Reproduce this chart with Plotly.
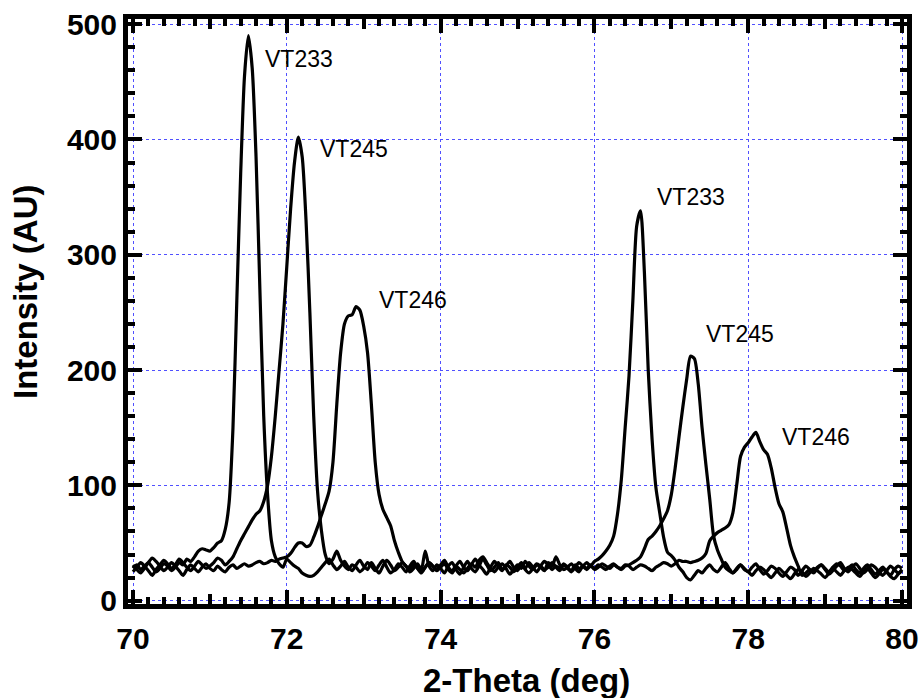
import numpy as np
import plotly.graph_objects as go

# 2-theta sampling: 70.00 .. 80.00 deg, step 0.05 deg (201 points)
X_START = 70.0
X_STEP = 0.05

vt233 = [
    28, 31, 27, 30, 33, 29, 25, 28, 32, 30,
    26, 29, 33, 31, 36, 34, 38, 43, 45, 44,
    43, 46, 50, 52, 62, 85, 150, 260, 370, 455,
    490, 462, 385, 270, 160, 92, 52, 38, 32, 29,
    36, 33, 30, 28, 24, 22, 21, 22, 25, 29,
    33, 36, 31, 27, 30, 34, 29, 26, 31, 35,
    30, 27, 33, 28, 24, 30, 35, 31, 26, 29,
    33, 30, 25, 28, 32, 27, 43, 30, 26, 31,
    28, 24, 30, 33, 27, 23, 29, 34, 28, 25,
    30, 36, 31, 26, 29, 33, 27, 30, 34, 29,
    26, 31, 28, 33, 29, 25, 30, 34, 31, 27,
    30, 28, 32, 29, 26, 31, 28, 30, 33, 30,
    34, 36, 39, 43, 48, 56, 75, 105, 150, 195,
    260, 325, 338, 285, 200, 140, 98, 76, 55, 42,
    39, 35, 29, 25, 20, 18, 22, 26, 24, 28,
    31, 27, 25, 29, 33, 28, 24, 27, 31, 28,
    25, 29, 32, 27, 23, 26, 30, 28, 24, 21,
    25, 29, 27, 22, 26, 30, 27, 24, 28, 31,
    27, 23, 26, 30, 33, 28, 25, 29, 32, 28,
    24, 27, 31, 29, 25, 22, 26, 30, 27, 24,
    27,
]

vt245 = [
    25, 29, 33, 30, 26, 22, 27, 31, 35, 32,
    28, 31, 36, 33, 29, 26, 30, 34, 31, 28,
    30, 33, 37, 35, 31, 34, 38, 45, 52, 58,
    64, 70, 75, 78, 86, 100, 125, 160, 200, 240,
    290, 340, 380, 402, 385, 330, 250, 160, 95, 61,
    40, 32, 36, 43, 35, 30, 27, 31, 29, 25,
    28, 33, 30, 26, 31, 35, 29, 24, 27, 32,
    29, 25, 30, 34, 28, 24, 29, 33, 30, 27,
    31, 35, 29, 26, 30, 27, 24, 28, 32, 29,
    35, 38, 33, 28, 25, 29, 32, 28, 23, 27,
    31, 28, 34, 30, 27, 31, 29, 26, 33, 30,
    38, 31, 27, 29, 32, 28, 25, 30, 28, 31,
    27, 29, 32, 30, 28, 31, 29, 27, 30, 31,
    33, 35, 38, 45, 53, 56, 60, 65, 71, 78,
    92, 115, 142, 168, 192, 212, 210, 188, 150, 118,
    88, 56, 44, 36, 29, 26, 24, 28, 31, 27,
    25, 22, 26, 29, 27, 23, 20, 24, 28, 25,
    22, 19, 23, 27, 25, 21, 24, 28, 26, 23,
    20, 24, 28, 25, 22, 26, 29, 27, 24, 21,
    25, 28, 24, 20, 23, 27, 25, 21, 19, 23,
    26,
]

vt246 = [
    31, 27, 24, 28, 33, 37, 34, 30, 26, 29,
    33, 30, 26, 22, 27, 31, 28, 25, 29, 32,
    28, 26, 30, 27, 25, 29, 31, 28, 30, 32,
    30, 31, 33, 34, 32, 33, 35, 34, 36, 37,
    38, 41, 46, 50, 50, 47, 48, 55, 64, 74,
    84, 95, 120, 170, 215, 240, 247, 248, 255, 252,
    238, 215, 170, 120, 92, 79, 72, 65, 52, 42,
    34, 30, 27, 31, 28, 25, 29, 33, 30, 26,
    29, 32, 27, 24, 30, 34, 29, 26, 31, 36,
    31, 27, 23, 29, 34, 30, 26, 31, 29, 25,
    29, 33, 27, 24, 28, 32, 30, 27, 29, 33,
    29, 26, 31, 28, 25, 29, 33, 30, 27, 30,
    28, 31, 29, 27, 30, 32, 29, 28, 31, 30,
    27, 29, 31, 30, 28, 26, 29, 31, 33, 32,
    30, 32, 35, 34, 34, 33, 34, 35, 37, 41,
    52, 56, 59, 61, 63, 66, 76, 100, 125, 133,
    137, 142, 146, 138, 131, 127, 115, 98, 84, 77,
    63, 48, 38, 30, 22, 24, 27, 25, 29, 31,
    28, 25, 29, 32, 30, 26, 28, 31, 27, 24,
    28, 31, 27, 23, 26, 29, 25, 22, 27, 30,
    28,
]

series_names = ["VT233", "VT245", "VT246"]
label_names = ["VT233", "VT245", "VT246", "VT233", "VT245", "VT246"]
label_x = [71.69, 72.41, 73.17, 76.79, 77.42, 78.41]
label_y = [470, 392, 261, 350, 231, 142]

x_major = [70, 72, 74, 76, 78, 80]
x_mid = [71, 73, 75, 77, 79]
y_major = [0, 100, 200, 300, 400, 500]

x_title = "2-Theta (deg)"
y_title = "Intensity (AU)"

x = np.round(X_START + X_STEP * np.arange(len(vt233)), 2)

fig = go.Figure()
for name, ys in zip(series_names, [vt233, vt245, vt246]):
    fig.add_trace(go.Scatter(x=x, y=ys, mode="lines", name=name,
                             line=dict(color="black", width=3.2, shape="spline",
                                       smoothing=0.7),
                             showlegend=False))

# invisible trace on the overlay axis so its medium ticks are drawn
fig.add_trace(go.Scatter(x=[70], y=[0], xaxis="x2", mode="markers",
                         marker=dict(opacity=0), showlegend=False, hoverinfo="skip"))

TICKFONT = dict(family="Liberation Sans, Arial", size=30, color="black", weight="bold")
GRID = "rgb(80,80,255)"
GRIDDASH = "3px,3px"

fig.update_layout(
    width=921, height=698,
    margin=dict(l=128, r=14, t=19, b=94, autoexpand=False),
    paper_bgcolor="white", plot_bgcolor="white",
    xaxis=dict(
        range=[69.935, 80.065], tickmode="array", tickvals=x_major,
        ticktext=[str(v) for v in x_major], automargin=False,
        ticks="inside", ticklen=14, tickwidth=4, tickcolor="black",
        ticklabelstandoff=4,
        showline=True, linewidth=5, linecolor="black", mirror="ticks",
        showgrid=True, gridcolor=GRID, griddash=GRIDDASH, gridwidth=1,
        zeroline=False, tickfont=TICKFONT,
        minor=dict(dtick=0.2, tick0=70, ticks="inside", ticklen=7,
                   tickwidth=4, tickcolor="black", showgrid=False),
    ),
    xaxis2=dict(
        overlaying="x", matches="x", anchor="y", side="bottom", automargin=False,
        tickmode="array", tickvals=x_mid, ticks="inside", ticklen=10,
        tickwidth=4, tickcolor="black", showticklabels=False,
        showgrid=False, zeroline=False, showline=False, mirror="ticks",
    ),
    yaxis=dict(
        range=[-2.9, 504.5], tickmode="array", tickvals=y_major,
        ticktext=[str(v) for v in y_major], automargin=False,
        ticks="inside", ticklen=14, tickwidth=4, tickcolor="black",
        showline=True, linewidth=5, linecolor="black", mirror="ticks",
        showgrid=True, gridcolor=GRID, griddash=GRIDDASH, gridwidth=1,
        zeroline=False, tickfont=TICKFONT,
        minor=dict(dtick=20, tick0=0, ticks="inside", ticklen=7,
                   tickwidth=4, tickcolor="black", showgrid=False),
    ),
)

for t, lx, ly in zip(label_names, label_x, label_y):
    fig.add_annotation(x=lx, y=ly, text=t, showarrow=False, xanchor="left",
                       yanchor="middle",
                       font=dict(family="Liberation Sans, Arial", size=23, color="black"))

fig.add_annotation(xref="paper", yref="paper", x=0.511, y=-0.1316, text=x_title,
                   showarrow=False, xanchor="center", yanchor="middle",
                   font=dict(family="Liberation Sans, Arial", size=33, color="black",
                             weight="bold"))
fig.add_annotation(xref="paper", yref="paper", x=-0.1322, y=0.5333, text=y_title,
                   showarrow=False, xanchor="center", yanchor="middle", textangle=-90,
                   font=dict(family="Liberation Sans, Arial", size=33, color="black",
                             weight="bold"))

fig.write_html("out.html", config={"displayModeBar": False})

# remove the browser's default page margin so the figure sits at the top-left corner
with open("out.html", "r", encoding="utf-8") as f:
    html = f.read()
html = html.replace("<head>", "<head><style>html,body{margin:0;padding:0;overflow:hidden;}</style>", 1)
with open("out.html", "w", encoding="utf-8") as f:
    f.write(html)
